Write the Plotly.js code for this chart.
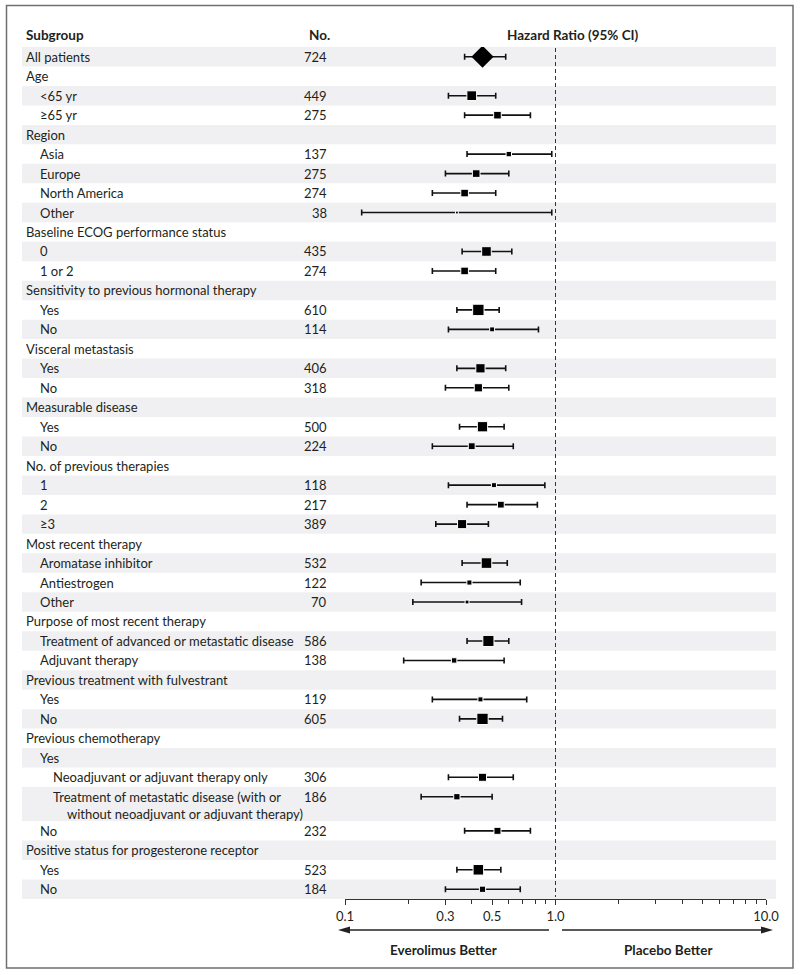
<!DOCTYPE html>
<html>
<head>
<meta charset="utf-8">
<script src="https://cdn.plot.ly/plotly-3.0.1.min.js"></script>
<style>html,body{margin:0;padding:0;background:#fff;}#chart{width:800px;height:975px;}</style>
</head>
<body>
<div id="chart"></div>
<script>
// ---- data ----
const labels = [
  "All patients", "Age", "<65 yr", "≥65 yr", "Region", "Asia", "Europe", "North America", "Other",
  "Baseline ECOG performance status", "0", "1 or 2",
  "Sensitivity to previous hormonal therapy", "Yes", "No",
  "Visceral metastasis", "Yes", "No",
  "Measurable disease", "Yes", "No",
  "No. of previous therapies", "1", "2", "≥3",
  "Most recent therapy", "Aromatase inhibitor", "Antiestrogen", "Other",
  "Purpose of most recent therapy", "Treatment of advanced or metastatic disease", "Adjuvant therapy",
  "Previous treatment with fulvestrant", "Yes", "No",
  "Previous chemotherapy", "Yes", "Neoadjuvant or adjuvant therapy only",
  "Treatment of metastatic disease (with or<br>without neoadjuvant or adjuvant therapy)", "No",
  "Positive status for progesterone receptor", "Yes", "No"
];
const levels = [0,0,1,1,0,1,1,1,1, 0,1,1, 0,1,1, 0,1,1, 0,1,1, 0,1,1,1, 0,1,1,1, 0,1,1, 0,1,1, 0,1,2,2,1, 0,1,1];
const counts = [724,null,449,275,null,137,275,274,38, null,435,274, null,610,114, null,406,318, null,500,224,
  null,118,217,389, null,532,122,70, null,586,138, null,119,605, null,null,306,186,232, null,523,184];
const hr = [0.45,null,0.40,0.53,null,0.60,0.42,0.37,0.34, null,0.47,0.37, null,0.43,0.50, null,0.44,0.43, null,0.45,0.40,
  null,0.51,0.55,0.36, null,0.47,0.39,0.38, null,0.48,0.33, null,0.44,0.45, null,null,0.45,0.34,0.53, null,0.43,0.45];
const lo = [0.37,null,0.31,0.37,null,0.38,0.30,0.26,0.12, null,0.36,0.26, null,0.34,0.31, null,0.34,0.30, null,0.35,0.26,
  null,0.31,0.38,0.27, null,0.36,0.23,0.21, null,0.38,0.19, null,0.26,0.35, null,null,0.31,0.23,0.37, null,0.34,0.30];
const hi = [0.58,null,0.52,0.76,null,0.96,0.60,0.52,0.96, null,0.62,0.52, null,0.54,0.83, null,0.58,0.60, null,0.57,0.63,
  null,0.89,0.82,0.48, null,0.59,0.68,0.69, null,0.60,0.57, null,0.73,0.56, null,null,0.63,0.50,0.76, null,0.55,0.68];
const tickVals = [0.1, 0.3, 0.5, 1, 10];
const tickText = ["0.1", "0.3", "0.5", "1.0", "10.0"];
const minorVals = [0.2, 0.4, 0.6, 0.7, 0.8, 0.9, 2, 3, 4, 5, 6, 7, 8, 9];

// ---- geometry helpers ----
const L = 345, W = 421, T = 47, H = 852;
const px2x = p => (p - L) / W;
const py2y = p => (T + H - p) / H;
const FONT = "Lato, 'Open Sans', sans-serif";
const TXT = "#231f20";
const FS = 13;
const indent = [24, 38, 51];

// row positions (units of one row)
const rowTop = [], markY = [];
let cum = 0;
labels.forEach(lb => {
  const n = lb.split("<br>").length;
  const h = 1 + 0.75 * (n - 1);
  rowTop.push(cum);
  markY.push(cum + 0.5);
  cum += h;
});
const total = cum;
const unitPx = H / total;

const shapes = [];
const annotations = [];
labels.forEach((lb, i) => {
  const h = (i + 1 < labels.length ? rowTop[i + 1] : total) - rowTop[i];
  if (i % 2 === 0) {
    shapes.push({type: "rect", xref: "paper", yref: "y", x0: px2x(22), x1: px2x(776),
      y0: rowTop[i], y1: rowTop[i] + h, fillcolor: "#f0f0f2", line: {width: 0}, layer: "below"});
  }
  const lines = lb.split("<br>");
  lines.forEach((ln, k) => {
    annotations.push({xref: "paper", yref: "y", x: px2x(indent[levels[i]] + (k > 0 ? 14 : 0)),
      y: markY[i] + k * (17 / unitPx), text: ln, showarrow: false, xanchor: "left", yanchor: "middle",
      font: {family: FONT, size: FS, color: TXT}});
  });
  if (counts[i] !== null) {
    annotations.push({xref: "paper", yref: "y", x: px2x(329), y: markY[i], text: String(counts[i]),
      showarrow: false, xanchor: "right", yanchor: "middle", font: {family: FONT, size: FS, color: TXT}});
  }
});

// header
const hdr = (txt, px, anchor) => ({xref: "paper", yref: "paper", x: px2x(px), y: py2y(35), text: "<b>" + txt + "</b>",
  showarrow: false, xanchor: anchor, yanchor: "middle", font: {family: FONT, size: 13.5, color: TXT}});
annotations.push(hdr("Subgroup", 24, "left"));
annotations.push(hdr("No.", 307, "left"));
annotations.push(hdr("Hazard Ratio (95% CI)", 573, "center"));
annotations.push({...hdr("Everolimus Better", 443, "center"), y: py2y(950)});
annotations.push({...hdr("Placebo Better", 668, "center"), y: py2y(950)});

// reference line at HR = 1
shapes.push({type: "line", xref: "x", yref: "paper", x0: 1, x1: 1, y0: py2y(48), y1: py2y(897),
  line: {color: "#333", width: 1, dash: "4px,3px"}});
// arrows
const ay = 930;
shapes.push({type: "line", xref: "paper", yref: "paper", x0: px2x(348), x1: px2x(549), y0: py2y(ay), y1: py2y(ay),
  line: {color: "#222", width: 1.3}});
shapes.push({type: "path", xref: "paper", yref: "paper",
  path: `M ${px2x(338)} ${py2y(ay)} L ${px2x(350)} ${py2y(ay - 3.5)} L ${px2x(350)} ${py2y(ay + 3.5)} Z`,
  fillcolor: "#222", line: {width: 0}});
shapes.push({type: "line", xref: "paper", yref: "paper", x0: px2x(562), x1: px2x(763), y0: py2y(ay), y1: py2y(ay),
  line: {color: "#222", width: 1.3}});
shapes.push({type: "path", xref: "paper", yref: "paper",
  path: `M ${px2x(773)} ${py2y(ay)} L ${px2x(761)} ${py2y(ay - 3.5)} L ${px2x(761)} ${py2y(ay + 3.5)} Z`,
  fillcolor: "#222", line: {width: 0}});
// frame
shapes.push({type: "rect", xref: "paper", yref: "paper", x0: px2x(6.5), x1: px2x(793), y0: py2y(968), y1: py2y(5.5),
  line: {color: "#6f6f6f", width: 1.5}, layer: "above"});

// ---- traces ----
const sx = [], sy = [], se = [], sem = [], ss = [];
const dx = [], dy = [], de = [], dem = [];
hr.forEach((v, i) => {
  if (v === null) return;
  if (i === 0) {
    dx.push(v); dy.push(markY[i]); de.push(hi[i] - v); dem.push(v - lo[i]);
  } else {
    sx.push(v); sy.push(markY[i]); se.push(hi[i] - v); sem.push(v - lo[i]);
    ss.push(0.46 * Math.sqrt(counts[i]));
  }
});
const err = (a, am) => ({type: "data", symmetric: false, array: a, arrayminus: am, color: "#111", thickness: 1.6, width: 3});
const traces = [
  {type: "scatter", mode: "markers", x: sx, y: sy, error_x: err(se, sem),
   marker: {symbol: "square", color: "#000", size: ss, opacity: 1}, hoverinfo: "x"},
  {type: "scatter", mode: "markers", x: dx, y: dy, error_x: err(de, dem),
   marker: {symbol: "diamond", color: "#000", size: 17, opacity: 1}, hoverinfo: "x"}
];

const layout = {
  width: 800, height: 975,
  margin: {l: L, r: 800 - L - W, t: T, b: 975 - T - H, pad: 0},
  paper_bgcolor: "#fff", plot_bgcolor: "rgba(0,0,0,0)",
  showlegend: false,
  xaxis: {type: "log", range: [-1, 1], tickmode: "array", tickvals: tickVals, ticktext: tickText,
    ticks: "outside", ticklen: 5, tickwidth: 1, tickcolor: "#333", showline: true, linecolor: "#333", linewidth: 1,
    showgrid: false, zeroline: false, fixedrange: true,
    tickfont: {family: FONT, size: 13, color: TXT},
    minor: {tickmode: "array", tickvals: minorVals, ticks: "outside", ticklen: 4, tickcolor: "#333", showgrid: false}},
  yaxis: {range: [total, 0], showticklabels: false, showgrid: false, zeroline: false, showline: false, ticks: "", fixedrange: true},
  shapes: shapes,
  annotations: annotations
};
Plotly.newPlot("chart", traces, layout, {displayModeBar: false, staticPlot: true});
</script>
</body>
</html>
